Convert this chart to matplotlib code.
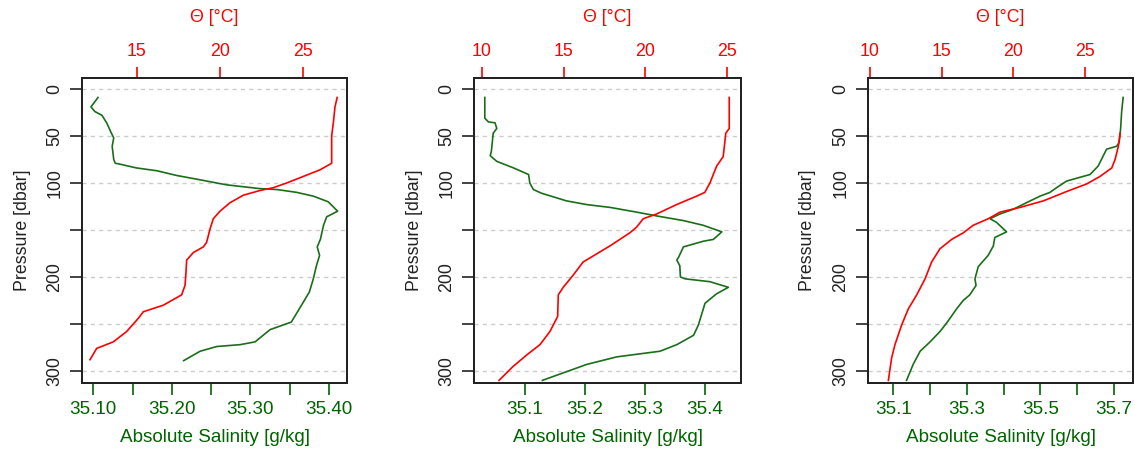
import matplotlib
matplotlib.use("Agg")
import matplotlib.pyplot as plt

plt.rcParams['font.family'] = ['Liberation Sans', 'DejaVu Sans']

# ---------------- data ----------------
# Panel 1
p1_S = [9, 19, 24, 28, 36, 47, 52, 61, 75, 79, 80, 84, 87, 92, 96, 100, 102, 104, 106, 107, 110, 114, 120, 130,
        136, 145, 160, 168, 177, 188, 202, 216, 230, 248, 256, 269, 272, 274, 279, 289]
S1 = [35.106, 35.097, 35.102, 35.111, 35.117, 35.123, 35.126, 35.124, 35.126, 35.128, 35.134, 35.155, 35.181,
      35.206, 35.232, 35.257, 35.270, 35.291, 35.312, 35.334, 35.359, 35.380, 35.399, 35.411, 35.397, 35.393,
      35.389, 35.385, 35.388, 35.384, 35.380, 35.375, 35.365, 35.352, 35.325, 35.306, 35.287, 35.257, 35.236, 35.215]
p1_T = [9, 19, 36, 50, 79, 86, 93, 100, 105, 108, 113, 121, 130, 138, 149, 163, 168, 174, 182, 195, 209, 219,
        230, 237, 244, 258, 269, 276, 288]
T1 = [27.03, 26.9, 26.8, 26.7, 26.7, 26.0, 25.0, 24.0, 23.2, 22.4, 21.4, 20.6, 20.0, 19.6, 19.4, 19.2, 19.0,
      18.4, 18.0, 17.96, 17.9, 17.7, 16.6, 15.4, 15.1, 14.4, 13.6, 12.6, 12.2]

# Panel 2
p2_S = [9, 31, 35, 36, 42, 47, 66, 71, 77, 84, 91, 100, 107, 111, 119, 123, 126, 131, 135, 140, 145, 152, 160,
        162, 168, 179, 182, 188, 200, 202, 205, 211, 218, 228, 251, 262, 272, 279, 285, 293, 310]
S2 = [35.033, 35.033, 35.039, 35.050, 35.053, 35.047, 35.044, 35.042, 35.053, 35.081, 35.106, 35.108, 35.114,
      35.128, 35.169, 35.203, 35.242, 35.286, 35.319, 35.364, 35.397, 35.428, 35.414, 35.397, 35.364, 35.356,
      35.353, 35.358, 35.359, 35.367, 35.408, 35.439, 35.419, 35.400, 35.389, 35.381, 35.353, 35.325, 35.253,
      35.203, 35.129]
p2_T = [9, 42, 47, 72, 82, 100, 110, 114, 123, 133, 138, 147, 153, 167, 184, 198, 211, 219, 242, 258, 272, 283,
        295, 310]
T2 = [25.12, 25.12, 24.91, 24.75, 24.35, 23.94, 23.63, 23.13, 21.9, 20.68, 19.87, 19.46, 19.05, 17.83, 16.2,
      15.59, 14.98, 14.68, 14.64, 14.17, 13.56, 12.75, 11.93, 11.06]

# Panel 3
p3_S = [9, 24, 43, 57, 61, 64, 75, 82, 91, 94, 98, 105, 110, 114, 121, 128, 133, 138, 142, 152, 158, 167, 177,
        189, 202, 209, 219, 225, 234, 249, 258, 269, 279, 293, 310]
S3 = [35.725, 35.721, 35.718, 35.714, 35.707, 35.680, 35.666, 35.657, 35.635, 35.607, 35.571, 35.544, 35.526,
      35.499, 35.462, 35.426, 35.390, 35.363, 35.381, 35.408, 35.376, 35.372, 35.358, 35.331, 35.322, 35.325,
      35.308, 35.290, 35.272, 35.245, 35.227, 35.200, 35.173, 35.154, 35.136]
p3_T = [47, 61, 75, 84, 93, 101, 109, 119, 126, 131, 138, 145, 153, 160, 170, 184, 202, 219, 234, 251, 272, 286, 310]
T3 = [27.45, 27.33, 27.1, 26.87, 26.05, 25.12, 23.73, 22.1, 20.47, 19.07, 18.26, 17.2, 16.51, 15.7, 14.88, 14.3,
      13.84, 13.26, 12.67, 12.21, 11.74, 11.51, 11.28]

p_ticks = [0, 50, 100, 150, 200, 250, 300]
p_ticklabels = ["0", "50", "100", "", "200", "", "300"]

S_ticks1 = [35.10, 35.15, 35.20, 35.25, 35.30, 35.35, 35.40]
S_labels1 = ["35.10", "", "35.20", "", "35.30", "", "35.40"]
S_ticks2 = [35.1, 35.2, 35.3, 35.4]
S_labels2 = ["35.1", "35.2", "35.3", "35.4"]
S_ticks3 = [35.1, 35.2, 35.3, 35.4, 35.5, 35.6, 35.7]
S_labels3 = ["35.1", "", "35.3", "", "35.5", "", "35.7"]

T_ticks1 = [15, 20, 25]
T_ticks2 = [10, 15, 20, 25]
T_ticks3 = [10, 15, 20, 25]

# ---------------- layout ----------------
W, H = 1135, 457
fig = plt.figure(figsize=(W / 100, H / 100), dpi=100)

GREEN = '#006400'
GREEN_LINE = '#1a6e1a'
RED = '#ff0000'
FS = 12.8
FS_BOT = 13.6

panels = [
    dict(x0=82, x1=347, pS=p1_S, S=S1, pT=p1_T, T=T1, Slim=(35.0856, 35.4229), Tlim=(11.72, 27.62),
         St=S_ticks1, Sl=S_labels1, Tt=T_ticks1, ylab_x=23),
    dict(x0=474.3, x1=740.7, pS=p2_S, S=S2, pT=p2_T, T=T2, Slim=(35.0155, 35.4595), Tlim=(9.55, 25.82),
         St=S_ticks2, Sl=S_labels2, Tt=T_ticks2, ylab_x=414),
    dict(x0=868.3, x1=1132.7, pS=p3_S, S=S3, pT=p3_T, T=T3, Slim=(35.032, 35.751), Tlim=(9.88, 28.33),
         St=S_ticks3, Sl=S_labels3, Tt=T_ticks3, ylab_x=807),
]

y_top, y_bot = 78, 383

for pn in panels:
    rect = [pn['x0'] / W, 1 - y_bot / H, (pn['x1'] - pn['x0']) / W, (y_bot - y_top) / H]
    ax = fig.add_axes(rect)
    axT = ax.twiny()

    ax.set_ylim(312.8, -11.7)
    ax.set_xlim(*pn['Slim'])
    axT.set_xlim(*pn['Tlim'])

    for y in p_ticks:
        ax.axhline(y, color='#cccccc', lw=1.0, ls=(0, (3, 3)), zorder=0)

    ax.plot(pn['S'], pn['pS'], color=GREEN_LINE, lw=1.2, zorder=3)
    axT.plot(pn['T'], pn['pT'], color=RED, lw=1.2, zorder=3)

    ax.set_yticks(p_ticks)
    ax.set_yticklabels(p_ticklabels, rotation=90, va='center', fontsize=FS, color='#222222')
    ax.set_xticks(pn['St'])
    ax.set_xticklabels(pn['Sl'], fontsize=FS_BOT, color=GREEN)
    axT.set_xticks(pn['Tt'])
    axT.set_xticklabels([str(t) for t in pn['Tt']], fontsize=FS, color=RED)

    ax.tick_params(axis='y', length=8.5, width=1.2, color='#222222', pad=5)
    ax.tick_params(axis='x', length=8.5, width=1.2, color=GREEN, pad=4.5)
    axT.tick_params(axis='x', length=8.0, width=1.2, color=RED, pad=5)

    for a in (ax, axT):
        for s in a.spines.values():
            s.set_linewidth(1.4)
            s.set_color('#222222')

    xc = (pn['x0'] + pn['x1']) / 2
    fig.text(xc / W, 1 - 438 / H, "Absolute Salinity [g/kg]", ha='center', va='center',
             fontsize=FS_BOT, color=GREEN)
    fig.text(xc / W, 1 - 18 / H, "Θ [°C]", ha='center', va='center', fontsize=FS, color=RED)
    fig.text(pn['ylab_x'] / W, 1 - 230 / H, "Pressure [dbar]", ha='center', va='center',
             rotation=90, fontsize=FS, color='#222222')

fig.savefig("out.png", dpi=100)
